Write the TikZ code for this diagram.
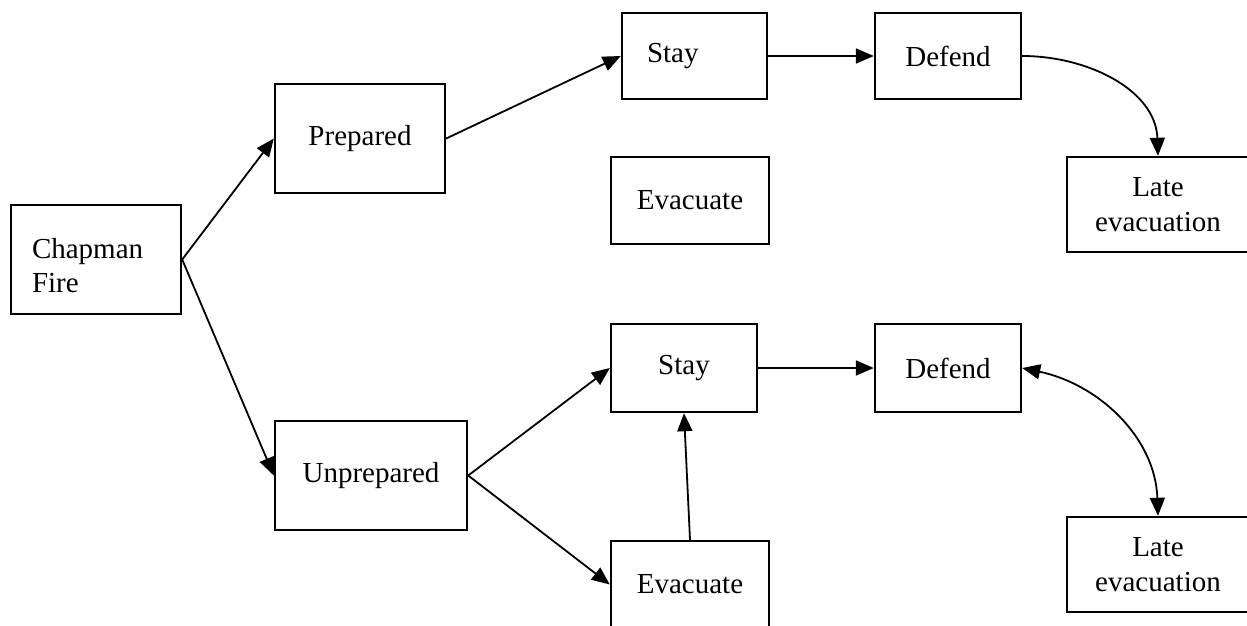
\documentclass[tikz,border=0pt]{standalone}
\usepackage{fontspec}
\setmainfont{Liberation Serif}
\usetikzlibrary{arrows.meta}
\begin{document}
\begin{tikzpicture}[x=1pt,y=-1pt,
  box/.style={draw, line width=2.4pt, inner sep=0pt, align=center,
    font=\fontsize{29}{34.5}\selectfont},
  conn/.style={line width=1.8pt, -{Triangle[length=18pt,width=15pt]}},
  dconn/.style={line width=1.8pt, {Triangle[length=18pt,width=15pt]}-{Triangle[length=18pt,width=15pt]}}]
\clip (0,0) rectangle (1247,626);
\fill[white] (0,0) rectangle (1247,626);
% boxes
\node[box, minimum width=170pt, minimum height=109pt, text width=128pt, align=left, inner xsep=21pt] (chap) at (96,259.5) {\rule{0pt}{32pt}Chapman\\Fire};
\node[box, minimum width=170pt, minimum height=109pt] (prep) at (360,138.5) {Prepared};
\node[box, minimum width=145pt, minimum height=86pt, text width=95pt, align=left, inner xsep=25pt] (stay1) at (694.5,56) {Stay};
\node[box, minimum width=146pt, minimum height=86pt] (def1) at (948,56) {Defend};
\node[box, minimum width=158pt, minimum height=87pt] (evac1) at (690,200.5) {Evacuate};
\node[box, minimum width=182pt, minimum height=95pt] (late1) at (1158,204.5) {Late\\evacuation};
\node[box, minimum width=192pt, minimum height=109pt] (unprep) at (371,475.5) {Unprepared};
\node[box, minimum width=146pt, minimum height=88pt] (stay2) at (684,368) {Stay};
\node[box, minimum width=146pt, minimum height=88pt] (def2) at (948,368) {Defend};
\node[box, minimum width=158pt, minimum height=87pt] (evac2) at (690,584.5) {Evacuate};
\node[box, minimum width=182pt, minimum height=95pt] (late2) at (1158,564.5) {Late\\evacuation};
% connectors
\draw[conn] (chap.east) -- (prep.west);
\draw[conn] (chap.east) -- (unprep.west);
\draw[conn] (prep.east) -- (stay1.west);
\draw[conn] (stay1.east) -- (def1.west);
\draw[conn] (def1.east) to[out=0,in=92,looseness=1] (late1.north);
\draw[conn] (unprep.east) -- (stay2.west);
\draw[conn] (unprep.east) -- (evac2.west);
\draw[conn] (evac2.north) -- (stay2.south);
\draw[conn] (stay2.east) -- (def2.west);
\draw[dconn] (def2.east) to[out=-12,in=92,looseness=1] (late2.north);
\end{tikzpicture}
\end{document}
